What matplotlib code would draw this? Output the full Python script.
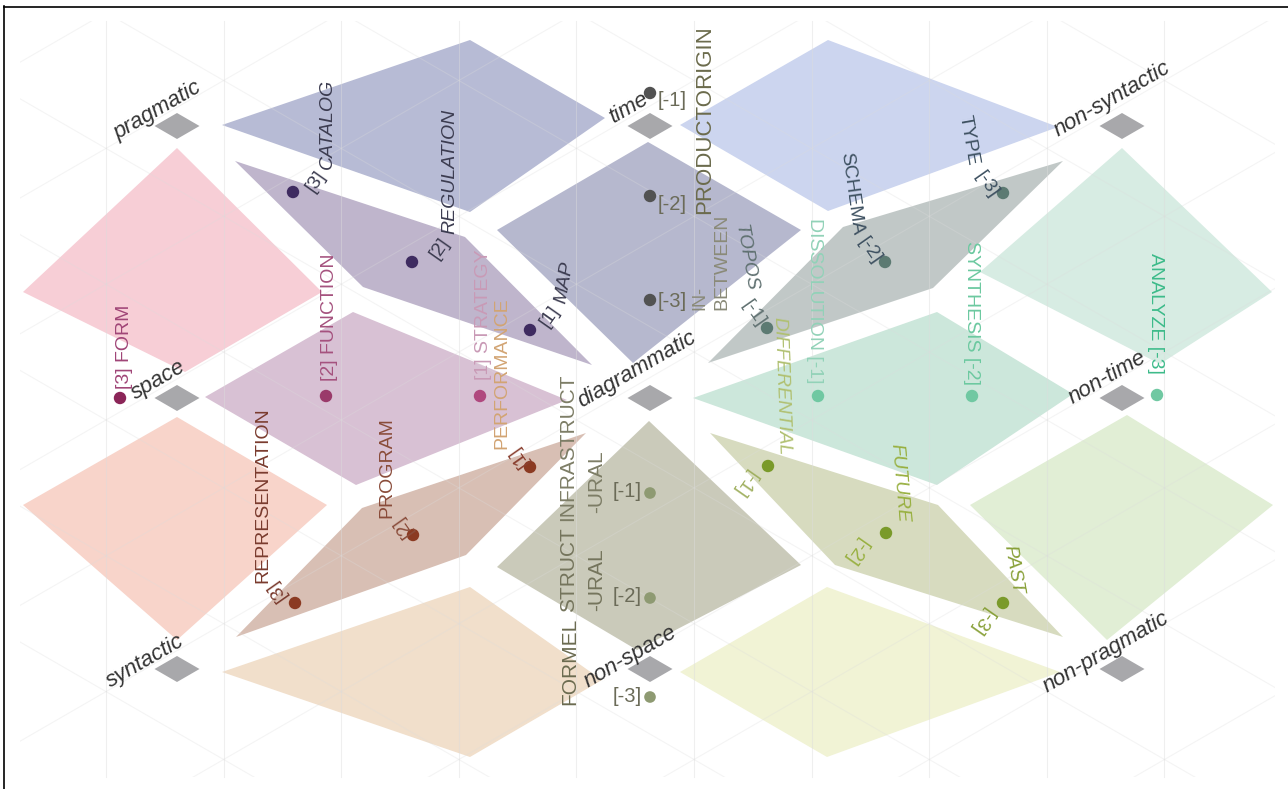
import matplotlib
matplotlib.use("Agg")
import matplotlib.pyplot as plt
from matplotlib.patches import Polygon, Rectangle
import numpy as np

plt.rcParams['font.family'] = ['Liberation Sans', 'DejaVu Sans']

# ------------------------------------------------------------------ data
# the nine poles of the diagram (3 x 3 lattice)
node_x = [177, 650, 1122]
node_y = [126, 398, 669]
node_names = [["pragmatic", "time", "non-syntactic"],
              ["space", "diagrammatic", "non-time"],
              ["syntactic", "non-space", "non-pragmatic"]]

# coloured fields (quadrilateral outlines, diagram units)
field_top_left = [(222, 125), (470, 40), (605, 118), (470, 212)]
field_top_right = [(680, 125), (828, 40), (1058, 127), (828, 211)]
field_ray_catalog = [(235, 161), (465, 237), (592, 365), (363, 287)]
field_center_top = [(497, 230), (648, 142), (801, 230), (633, 363)]
field_ray_type = [(708, 363), (843, 227), (1063, 161), (933, 288)]
field_right_top = [(1122, 148), (1272, 292), (1160, 364), (980, 272)]
field_left_top = [(177, 148), (322, 292), (185, 372), (23, 292)]
field_function = [(205, 397), (353, 312), (567, 400), (356, 485)]
field_dissolution = [(693, 398), (937, 312), (1073, 394), (937, 485)]
field_left_bottom = [(177, 417), (327, 505), (177, 640), (23, 505)]
field_ray_program = [(236, 637), (362, 508), (586, 433), (466, 555)]
field_center_bottom = [(497, 567), (649, 421), (801, 565), (637, 650)]
field_ray_future = [(710, 433), (835, 565), (1063, 637), (938, 505)]
field_right_bottom = [(1127, 415), (1273, 505), (1107, 640), (970, 505)]
field_bottom_left = [(222, 672), (470, 587), (602, 680), (470, 757)]
field_bottom_right = [(680, 672), (827, 587), (1060, 672), (827, 757)]

# item markers (values along each ray)
catalog_dots_x = [293, 412, 530]
catalog_dots_y = [192, 262, 330]
catalog_index = ["[3]", "[2]", "[1]"]
catalog_words = ["CATALOG", "REGULATION", "MAP"]

form_dots_x = [120, 326, 480]
form_dots_y = [398, 396, 396]
form_labels = ["[3] FORM", "[2] FUNCTION", "[1] STRATEGY"]

program_dots_x = [295, 413, 530]
program_dots_y = [603, 535, 467]
program_index = ["[3]", "[2]", "[1]"]
program_words = ["REPRESENTATION", "PROGRAM", "PERFORMANCE"]

origin_dots_x = [650, 650, 650]
origin_dots_y = [93, 196, 300]
origin_labels = ["[-1]", "[-2]", "[-3]"]
origin_words = ["PRODUCTORIGIN", "IN-", "BETWEEN"]

type_dots_x = [767, 885, 1003]
type_dots_y = [328, 262, 193]
type_index = ["[-1]", "[-2]", "[-3]"]
type_words = ["TOPOS", "SCHEMA", "TYPE"]

analyze_dots_x = [818, 972, 1157]
analyze_dots_y = [396, 396, 395]
analyze_labels = ["DISSOLUTION [-1]", "SYNTHESIS [-2]", "ANALYZE [-3]"]

future_dots_x = [768, 886, 1003]
future_dots_y = [466, 533, 603]
future_index = ["[-1]", "[-2]", "[-3]"]
future_words = ["DIFFERENTIAL", "FUTURE", "PAST"]

struct_dots_x = [650, 650, 650]
struct_dots_y = [493, 598, 697]
struct_labels = ["[-1]", "[-2]", "[-3]"]
struct_words = ["INFRASTRUCT", "-URAL", "STRUCT", "-URAL", "FORMEL"]

# ------------------------------------------------------------------ figure
W, H = 1288, 789
fig = plt.figure(figsize=(W / 100, H / 100), dpi=100)
ax = fig.add_axes([0, 0, 1, 1])
ax.set_xlim(0, W)
ax.set_ylim(H, 0)
ax.axis("off")

fields = [
    (field_top_left, "#b7bbd5"), (field_top_right, "#ccd5ef"),
    (field_ray_catalog, "#bfb5cc"), (field_center_top, "#b6b8ce"),
    (field_ray_type, "#c1c8c7"), (field_right_top, "#d7ece3"),
    (field_left_top, "#f7ced6"), (field_function, "#d8c1d4"),
    (field_dissolution, "#cce7db"), (field_left_bottom, "#f8d4ca"),
    (field_ray_program, "#d8bfb4"), (field_center_bottom, "#cacaba"),
    (field_ray_future, "#d7dbbf"), (field_right_bottom, "#e1eed5"),
    (field_bottom_left, "#f1dfcb"), (field_bottom_right, "#f1f3d5"),
]
for verts, col in fields:
    ax.add_patch(Polygon(verts, closed=True, facecolor=col, edgecolor="none", zorder=1))

# faint isometric grid
clip = Rectangle((20, 21), 1255, 756, transform=ax.transData, fill=False, visible=False)
ax.add_patch(clip)
gx0, gdx = 106, 117.6
for k in range(10):
    x = gx0 + k * gdx
    ax.plot([x, x], [21, 777], color="#dcdcdc", lw=0.8, alpha=0.45, zorder=2)
t30 = np.tan(np.radians(30))
xs = np.array([0, W])
for j in range(-12, 20):
    c_up = 73.8 + 135.8 * j
    c_dn = -48.6 + 135.8 * j
    l1, = ax.plot(xs, c_up - t30 * xs, color="#dcdcdc", lw=0.8, alpha=0.3, zorder=2)
    l2, = ax.plot(xs, c_dn + t30 * xs, color="#dcdcdc", lw=0.8, alpha=0.3, zorder=2)
    l1.set_clip_path(clip)
    l2.set_clip_path(clip)

# pole diamonds and names
hw, hh = 22.5, 13
name_pos = [[(158, 111), (629, 108), (1112, 99)],
            [(158, 380), (637, 370), (1107, 378)],
            [(145, 661), (630, 657), (1106, 652)]]
for r, yy in enumerate(node_y):
    for c, xx in enumerate(node_x):
        ax.add_patch(Polygon([(xx - hw, yy), (xx, yy - hh), (xx + hw, yy), (xx, yy + hh)],
                             closed=True, facecolor="#a8a8ab", edgecolor="none", zorder=3))
        px, py = name_pos[r][c]
        ax.text(px, py, node_names[r][c], rotation=30, rotation_mode="anchor",
                ha="center", va="center", fontsize=16, style="italic",
                color="#333333", zorder=6)


def vlabel(x, y, s, rot, color, size=14, italic=False):
    ax.text(x, y, s, rotation=rot, rotation_mode="anchor", ha="center", va="center",
            fontsize=size, color=color, style="italic" if italic else "normal", zorder=6)


# dots
dot_groups = [
    (catalog_dots_x, catalog_dots_y, "#3e2b60", 80),
    (form_dots_x, form_dots_y, ["#8b2558", "#9a3a6a", "#b0487e"], 80),
    (program_dots_x, program_dots_y, "#8b3a22", 80),
    (origin_dots_x, origin_dots_y, "#525252", 80),
    (type_dots_x, type_dots_y, "#5c7a72", 80),
    (analyze_dots_x, analyze_dots_y, "#70c8a2", 80),
    (future_dots_x, future_dots_y, "#7a9a2a", 80),
    (struct_dots_x, struct_dots_y, "#8e9a72", 70),
]
for xs_, ys_, col, s in dot_groups:
    ax.scatter(xs_, ys_, s=s, c=col, edgecolors="none", zorder=5)

# CATALOG ray labels
cat_word_pos = [(327, 124, 90), (450, 171, 90), (565, 282, 80)]
cat_idx_pos = [(316, 181, 55), (440, 248, 55), (550, 316, 55)]
for (x, y, r), s in zip(cat_word_pos, catalog_words):
    vlabel(x, y, s, r, "#3c3c50", 14, italic=True)
for (x, y, r), s in zip(cat_idx_pos, catalog_index):
    vlabel(x, y, s, r, "#3c3c50", 14)

# FORM row labels
form_pos = [(125, 347, 90, "#a04577"), (330, 317, 90, "#a5527e"), (484, 315, 90, "#c99ab6")]
for (x, y, r, col), s in zip(form_pos, form_labels):
    vlabel(x, y, s, r, col, 14)

# PROGRAM ray labels
prog_word_pos = [(263, 495, "#7a3b2e"), (387, 468, "#8a4c3a"), (502, 373, "#d2a473")]
prog_idx_pos = [(276, 590, "#7a3b2e"), (402, 526, "#8a4c3a"), (518, 456, "#8a4030")]
for (x, y, col), s in zip(prog_word_pos, program_words):
    vlabel(x, y, s, 90, col, 14)
for (x, y, col), s in zip(prog_idx_pos, program_index):
    vlabel(x, y, s, 125, col, 14)

# ORIGIN column labels
for y, s in zip([100, 204, 301], origin_labels):
    ax.text(658, y, s, ha="left", va="center", fontsize=14.5, color="#6b6b58", zorder=6)
vlabel(705, 120, origin_words[0], 90, "#6b6b4c", 16)
vlabel(700, 298, origin_words[1], 90, "#8a8a78", 13)
vlabel(722, 262, origin_words[2], 90, "#8a8a78", 14)

# TYPE ray labels
type_word_pos = [(746, 258, -80, "#5f7070"), (851, 194, -82, "#3d5060"), (968, 140, -80, "#3d5060")]
type_idx_pos = [(754, 314, "#5f7070"), (870, 251, "#3d5060"), (987, 185, "#3d5060")]
for (x, y, r, col), s in zip(type_word_pos, type_words):
    vlabel(x, y, s, r, col, 14, italic=(s == "TOPOS"))
for (x, y, col), s in zip(type_idx_pos, type_index):
    vlabel(x, y, s, -55, col, 14)

# ANALYZE row labels
an_pos = [(815, 301, "#92d2b8"), (972, 313, "#6cc9a0"), (1156, 313, "#3dbb8a")]
for (x, y, col), s in zip(an_pos, analyze_labels):
    vlabel(x, y, s, -90, col, 14)

# FUTURE ray labels
fut_word_pos = [(781, 386, -88, "#b0c070"), (899, 483, -85, "#98b040"), (1013, 570, -80, "#88a038")]
fut_idx_pos = [(745, 483, "#a0b060"), (856, 551, "#98b040"), (982, 621, "#88a038")]
for (x, y, r, col), s in zip(fut_word_pos, future_words):
    vlabel(x, y, s, r, col, 14, italic=True)
for (x, y, col), s in zip(fut_idx_pos, future_index):
    vlabel(x, y, s, -125, col, 14)

# STRUCTURE column labels
for y, s in zip([491, 596, 696], struct_labels):
    ax.text(642, y, s, ha="right", va="center", fontsize=14.5, color="#6b6b58", zorder=6)
sw_pos = [(568, 447, "#7d7d66"), (597, 482, "#7d7d66"), (569, 570, "#74745c"),
          (597, 580, "#74745c"), (570, 661, "#6b6b50")]
for (x, y, col), s in zip(sw_pos, struct_words):
    vlabel(x, y, s, 90, col, 15)

# frame
ax.plot([4.5, 4.5], [6, H], color="black", lw=1.2, zorder=10)
ax.plot([4, W], [6.5, 6.5], color="black", lw=1.2, zorder=10)

fig.savefig("out.png", dpi=100)
